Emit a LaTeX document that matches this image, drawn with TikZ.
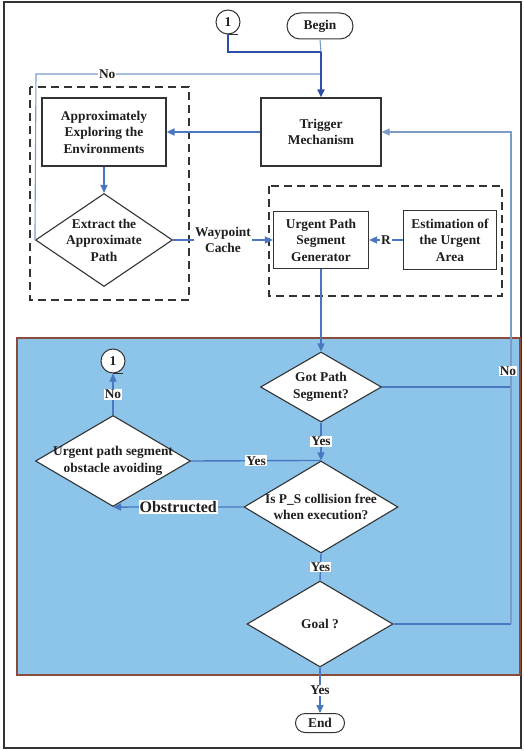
\documentclass[tikz,border=0pt]{standalone}
\usepackage{fontspec}
\setmainfont{Liberation Serif}
\usetikzlibrary{shapes.geometric,arrows.meta}
\definecolor{dkblue}{HTML}{2E4FA8}
\definecolor{mdblue}{HTML}{4A78C0}
\definecolor{ltblue}{HTML}{7C9CC8}
\definecolor{regfill}{HTML}{8CC4EA}
\definecolor{regborder}{HTML}{8B4B3B}
\definecolor{edge}{HTML}{333333}
\begin{document}
\begin{tikzpicture}[x=1pt,y=-1pt,
  txt/.style={font=\fontsize{13.4}{16.5}\selectfont\bfseries, align=center, text=black!88},
  box/.style={draw=edge, line width=1.2pt, fill=white, txt, inner sep=1pt},
  dia/.style={diamond, draw=edge, line width=1.1pt, fill=white, inner sep=0pt},
  stad/.style={draw=edge, line width=1pt, fill=white, txt},
  circ/.style={circle, draw=edge, line width=1pt, fill=white, txt, inner sep=0pt, minimum size=24pt},
  lab/.style={txt, fill=white, inner sep=1pt},
  dbox/.style={draw=edge, line width=1.2pt, dash pattern=on 8pt off 5pt},
  tip/.style={-{Triangle[length=8pt,width=7pt]}},
  dk/.style={draw=dkblue, line width=1.9pt},
  md/.style={draw=mdblue, line width=1.4pt},
  lt/.style={draw=ltblue, line width=1.1pt}
]
\useasboundingbox (0,0) rectangle (523,751);
\fill[white] (0,0) rectangle (523,751);
\draw[draw=edge, line width=2pt] (4,2.5) rectangle (521,747.5);
\draw[fill=regfill, draw=regborder, line width=1.1pt] (17,338) rectangle (520,675);
% dashed groups
\draw[dbox] (30,87) rectangle (189,300);
\draw[dbox] (269,186) rectangle (502,296);
% nodes
\node[stad, rounded corners=13pt, minimum width=66pt, minimum height=26pt] (begin) at (320,26) {Begin};
\node[circ] (c1) at (228,22) {1};
\draw[edge, line width=1pt] (c1.south) -- ++(10,0);
\node[box, minimum width=120pt, minimum height=68pt] (trig) at (321,132) {Trigger\\Mechanism};
\node[box, minimum width=124pt, minimum height=68pt] (approx) at (104,132) {Approximately\\Exploring the\\Environments};
\node[dia, minimum width=137pt, minimum height=93pt] (extract) at (104,240) {};
\node[txt] at (extract) {Extract the\\Approximate\\Path};
\node[box, minimum width=95pt, minimum height=57pt] (urgent) at (321,240) {Urgent Path\\Segment\\Generator};
\node[box, minimum width=93pt, minimum height=59pt] (estim) at (450,240) {Estimation of\\the Urgent\\Area};
\node[dia, minimum width=121pt, minimum height=70pt] (got) at (321,387) {};
\node[txt] at (got) {Got Path\\Segment?};
\node[dia, minimum width=155pt, minimum height=91pt] (avoid) at (113,461) {};
\node[txt] at (avoid) {Urgent path segment\\obstacle avoiding};
\node[dia, minimum width=154pt, minimum height=92pt] (isps) at (321,507) {};
\node[txt] at (isps) {Is P\_S collision free\\when execution?};
\node[dia, minimum width=146pt, minimum height=86pt] (goal) at (320,624) {};
\node[txt] at (goal) {Goal ?};
\node[circ] (c2) at (113,361) {1};
\draw[edge, line width=1pt] (c2.south) -- ++(10,0);
\node[stad, rounded corners=9.5pt, minimum width=49pt, minimum height=19pt, inner sep=1pt] (end) at (320,723) {End};
% junctions
\coordinate (jn) at (321,52);
\coordinate (c1b) at (228,52);
\coordinate (nol) at (36,74);
\coordinate (nor) at (321,74);
\coordinate (rgot) at (511,387);
\coordinate (rgoal) at (511,624);
\coordinate (rtop) at (511,132);
% connectors
\draw[lt] (begin.south) -- (jn);
\draw[lt] (extract.west) -- (nol) -- node[lab, pos=0.25]{No} (nor);
\draw[dk] (c1.south) -- (c1b) -- (jn);
\draw[dk, tip] (jn) -- (trig.north);
\draw[md, line width=1.8pt, tip] (trig.west) -- (approx.east);
\draw[md, tip] (approx.south) -- (extract.north);
\draw[md, tip] (extract.east) -- node[lab]{Waypoint\\Cache} (urgent.west);
\draw[md, tip] (estim.west) -- node[lab]{R} (urgent.east);
\draw[md, tip] (urgent.south) -- (got.north);
\draw[md] (got.east) -- (rgot);
\draw[md] (goal.east) -- (rgoal);
\draw[lt, tip] (rgoal) -- (rtop) -- (trig.east);
\node[lab] at (508,371) {No};
\draw[md, tip] (got.south) -- node[lab]{Yes} (isps.north);
\draw[md] (avoid.east) -- node[lab]{Yes} (isps.north);
\draw[md, tip] (isps.west) -- node[lab, font=\fontsize{16}{19}\selectfont\bfseries]{Obstructed} (avoid.south);
\draw[md, tip] (avoid.north) -- node[lab]{No} (c2.south);
\draw[md] (isps.south) -- node[lab]{Yes} (goal.north);
\draw[md, tip] (goal.south) -- node[lab]{Yes} (end.north);
\end{tikzpicture}
\end{document}
